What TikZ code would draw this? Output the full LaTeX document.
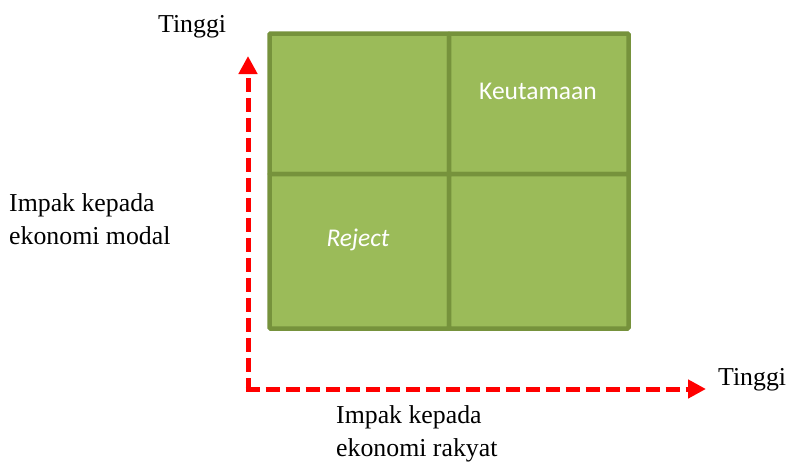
\documentclass[tikz,border=0pt]{standalone}
\usepackage{fontspec}
\setmainfont{Liberation Serif}
\newfontfamily\calibri{Carlito}
\usetikzlibrary{arrows.meta}
\definecolor{cellfill}{HTML}{9BBB59}
\definecolor{celledge}{HTML}{76923C}
\definecolor{axisred}{HTML}{FF0000}
\begin{document}
\begin{tikzpicture}[x=1pt,y=-1pt,
  cell/.style={draw=celledge,fill=cellfill,line width=4.5pt,rounded corners=1pt,inner sep=0pt,outer sep=0pt},
  axis/.style={draw=axisred,line width=5pt,dash pattern=on 14pt off 6pt,-{Triangle[length=18pt,width=18pt]}},
  lbl/.style={font=\fontsize{25.8}{33}\selectfont,inner sep=0pt,align=left},
  celltext/.style={font=\calibri\fontsize{25.5}{28}\selectfont,text=white,inner sep=0pt}]
\useasboundingbox (0,0) rectangle (787,461);
% cells
\node[cell,minimum width=179.5pt,minimum height=140.5pt] (tl) at (359.25,103.75) {};
\node[cell,minimum width=179.5pt,minimum height=140.5pt] (tr) at (538.75,103.75) {};
\node[cell,minimum width=179.5pt,minimum height=154.5pt] (bl) at (359.25,251.25) {};
\node[cell,minimum width=179.5pt,minimum height=154.5pt] (br) at (538.75,251.25) {};
\node[celltext] (keu) at (538,91) {Keutamaan};
\node[celltext] (rej) at (358,240) {\itshape Reject};
% axes
\coordinate (o) at (248,389);
\coordinate (ytip) at (248,56);
\coordinate (xtip) at (706,389);
\draw[axis] ([yshift=-2.5pt]o) -- (ytip);
\draw[axis] ([xshift=-2.5pt]o) -- (xtip);
% labels
\node[lbl,anchor=base west] (ytop) at (158,32) {Tinggi};
\node[lbl,anchor=base west] (xright) at (718,385) {Tinggi};
\node[lbl,anchor=base west] (ylab) at (9,244) {Impak kepada\\ekonomi modal};
\node[lbl,anchor=base west] (xlab) at (336,456) {Impak kepada\\ekonomi rakyat};
\end{tikzpicture}
\end{document}
